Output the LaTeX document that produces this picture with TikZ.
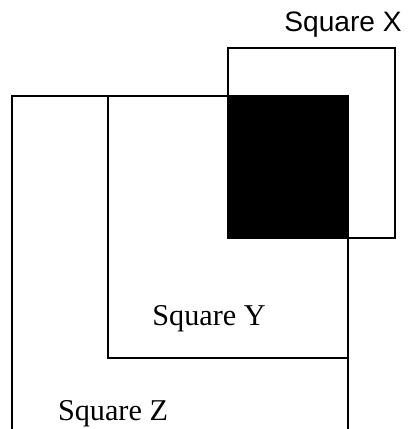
\documentclass[tikz,border=0pt]{standalone}
\usepackage{fontspec}
\setmainfont{Liberation Serif}
\newfontfamily\arialfont{Liberation Sans}
\usetikzlibrary{positioning}

\begin{document}
\begin{tikzpicture}[
  x=0.025cm, y=-0.025cm,
  edge/.style={draw=black, line width=1.6pt, line cap=rect},
  shade/.style={fill=black},
  labelx/.style={anchor=base, inner sep=0pt, font=\arialfont\fontsize{20}{24}\selectfont},
  labelyz/.style={anchor=base, inner sep=0pt, font=\fontsize{21.5}{26}\selectfont},
]
\useasboundingbox (0,0) rectangle (420,429);

% square X and the shared corner
\draw[edge] (228,96) -- (228,48) -- (395,48) -- (395,238) -- (348,238);
\fill[shade] (227,95) rectangle (348,239);

% square Z (open at the bottom) and square Y
\draw[edge] (12,429) -- (12,96) -- (348,96) -- (348,429);
\draw[edge] (108,96) -- (108,358) -- (348,358);

\node[labelx] (sqx) at (343,31) {Square X};
\node[labelyz] (sqy) at (209,325) {Square Y};
\node[labelyz] (sqz) at (113,420) {Square Z};
\end{tikzpicture}
\end{document}
